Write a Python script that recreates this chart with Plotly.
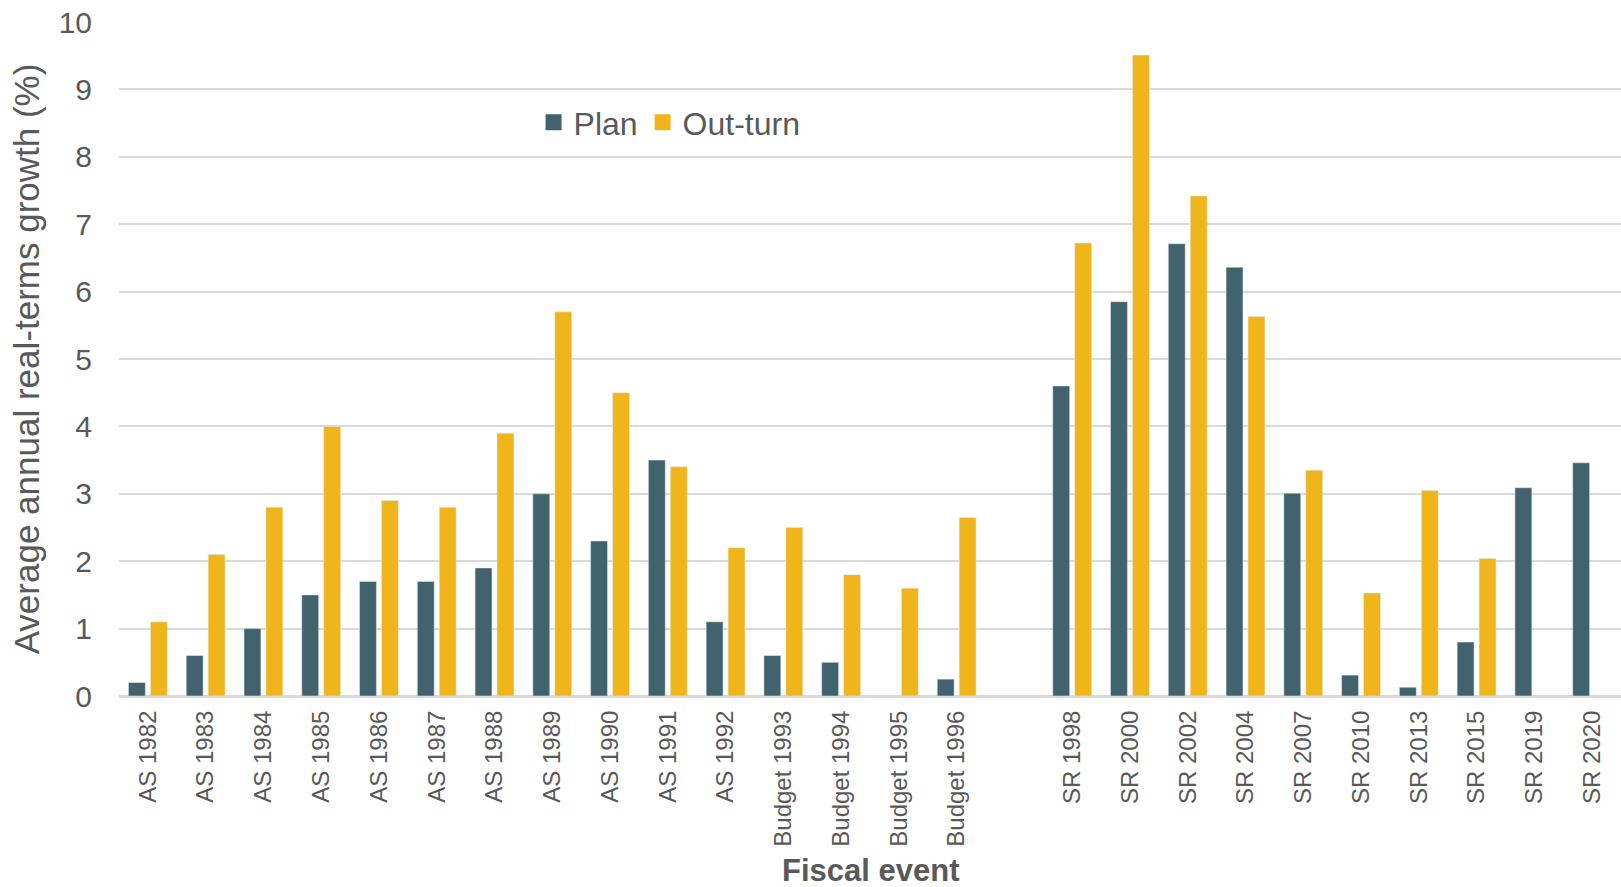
import plotly.graph_objects as go

# Fiscal events (a blank slot separates the Budgets from the Spending Reviews)
events = [
    "AS 1982", "AS 1983", "AS 1984", "AS 1985", "AS 1986", "AS 1987",
    "AS 1988", "AS 1989", "AS 1990", "AS 1991", "AS 1992",
    "Budget 1993", "Budget 1994", "Budget 1995", "Budget 1996",
    " ",
    "SR 1998", "SR 2000", "SR 2002", "SR 2004", "SR 2007",
    "SR 2010", "SR 2013", "SR 2015", "SR 2019", "SR 2020",
]

# Average annual real-terms growth (%)
plan = [
    0.2, 0.6, 1.0, 1.5, 1.7, 1.7,
    1.9, 3.0, 2.3, 3.5, 1.1,
    0.6, 0.5, None, 0.25,
    None,
    4.6, 5.85, 6.71, 6.36, 3.01,
    0.31, 0.13, 0.8, 3.09, 3.46,
]
outturn = [
    1.1, 2.1, 2.8, 4.0, 2.9, 2.8,
    3.9, 5.7, 4.5, 3.4, 2.2,
    2.5, 1.8, 1.6, 2.65,
    None,
    6.72, 9.51, 7.42, 5.63, 3.35,
    1.53, 3.05, 2.04, None, None,
]

y_ticks = list(range(0, 11))

PLAN_COLOR = "#40636D"
OUT_COLOR = "#F0B51B"
TEXT_COLOR = "#595959"
GRID_COLOR = "#D9D9D9"
FONT = "Liberation Sans, Arial, sans-serif"

fig = go.Figure()
fig.add_trace(go.Bar(x=events, y=plan, marker_color=PLAN_COLOR,
                     name="Plan", showlegend=False))
fig.add_trace(go.Bar(x=events, y=outturn, marker_color=OUT_COLOR,
                     name="Out-turn", showlegend=False))

# Legend entries drawn with larger square swatches
for label, colour in (("Plan", PLAN_COLOR), ("Out-turn", OUT_COLOR)):
    fig.add_trace(go.Scatter(x=[None], y=[None], mode="markers", name=label,
                             marker=dict(symbol="square", size=16, color=colour)))

fig.update_layout(
    width=1621, height=887,
    margin=dict(l=119, r=0, t=22, b=191),
    paper_bgcolor="white", plot_bgcolor="white",
    font=dict(family=FONT, color=TEXT_COLOR),
    barmode="group", bargap=0.24, bargroupgap=0.23,
    legend=dict(
        orientation="h", x=0.276, xanchor="left", y=0.851, yanchor="middle",
        font=dict(size=32, color=TEXT_COLOR), itemwidth=30,
        bgcolor="rgba(0,0,0,0)",
    ),
    xaxis=dict(
        type="category", categoryorder="array", categoryarray=events,
        tickangle=-90, tickfont=dict(size=24, color=TEXT_COLOR),
        ticklabelstandoff=3,
        showline=True, linecolor=GRID_COLOR, linewidth=2,
        showgrid=False, automargin=False,
    ),
    yaxis=dict(
        range=[0, 10], tickvals=y_ticks, tickfont=dict(size=30, color=TEXT_COLOR),
        ticklabelstandoff=26,
        showgrid=True, gridcolor=GRID_COLOR, gridwidth=2,
        zeroline=True, zerolinecolor=GRID_COLOR, zerolinewidth=2,
        automargin=False,
        title=dict(text="Average annual real-terms growth (%)",
                   font=dict(size=35, color=TEXT_COLOR), standoff=8),
    ),
    annotations=[
        dict(text="<b>Fiscal event</b>", xref="paper", yref="paper",
             x=0.5, y=-0.259, xanchor="center", yanchor="middle",
             showarrow=False, font=dict(size=31, color=TEXT_COLOR)),
    ],
)

fig.write_html("out.html")
